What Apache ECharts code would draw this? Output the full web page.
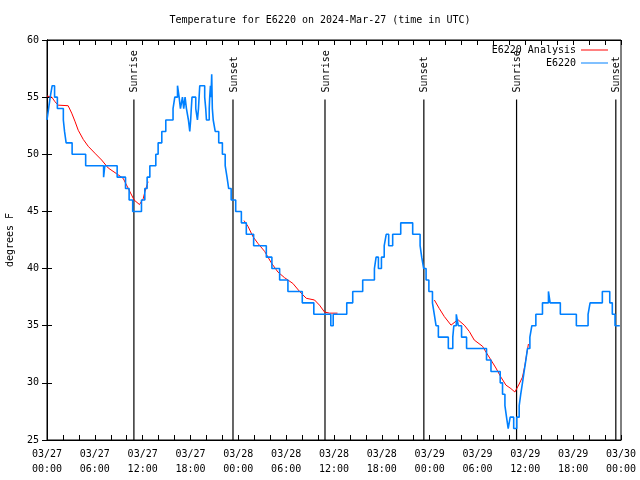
<!DOCTYPE html>
<html><head><meta charset="utf-8">
<script src="https://cdn.jsdelivr.net/npm/echarts@6/dist/echarts.min.js"></script>
<style>html,body{margin:0;padding:0;background:#fff}#c{width:640px;height:480px}</style>
</head><body><div id="c"></div>
<script>
// Hours since 2024-03-27 00:00 UTC
const tickLabels = ['03/27\n00:00','03/27\n06:00','03/27\n12:00','03/27\n18:00','03/28\n00:00','03/28\n06:00','03/28\n12:00','03/28\n18:00','03/29\n00:00','03/29\n06:00','03/29\n12:00','03/29\n18:00','03/30\n00:00'];

const obsHours = [0,0.2,0.4,0.65,0.95,1.3,2.05,2.2,2.4,3.15,4.85,7.1,7.25,8.8,9.85,10.3,10.75,11.85,12.27,12.56,12.9,13.65,13.94,14.4,14.9,15.81,16.03,16.37,16.57,16.74,16.99,17.15,17.32,17.49,17.74,17.91,18.02,18.1,18.19,18.66,18.87,19.0,19.08,19.16,19.78,19.91,20.0,20.35,20.41,20.5,20.57,20.66,20.74,20.85,21.1,21.54,22.0,22.35,22.58,22.79,23.1,23.67,24.38,25.0,25.92,27.51,28.21,29.18,30.22,32.02,33.47,35.6,35.9,37.6,38.35,39.6,41.07,41.28,41.57,41.95,42.3,42.55,42.86,43.36,44.37,45.87,46.8,47.0,47.25,47.55,47.9,48.35,48.58,48.8,49.09,50.34,50.9,51.03,51.34,51.59,52.0,52.63,55.13,55.69,56.85,57.14,57.44,57.64,57.85,58.1,58.54,58.92,59.23,59.42,59.64,59.85,60.07,60.27,60.57,60.82,61.32,62.15,62.9,63.11,64.39,66.4,67.87,68.12,69.66,70.59,70.91,71.25,71.85];
const obsTemps = [53,54,55,56,55,54,53,52,51,50,49,48,49,48,47,46,45,46,47,48,49,50,51,52,53,54,55,56,55,54,55,54,55,54,53,52,53,54,55,54,53,54,55,56,55,54,53,54,55,56,55,57,54,53,52,51,50,49,48,47,46,45,44,43,42,41,40,39,38,37,36,35,36,37,38,39,40,41,40,41,42,43,42,43,44,43,42,41,40,39,38,37,36,35,34,33,34,35,36,35,34,33,32,31,30,29,28,27,26,27,26,27,28,29,30,31,32,33,34,35,36,37,38,37,36,35,36,37,38,37,36,35,35];

const anaHours = [0,0.6,1.0,1.4,2.65,3.1,3.5,3.92,4.55,5.17,6.0,6.85,7.68,8.73,9.55,10.2,10.93,11.6,12.06,12.27,12.68, 18,
  24.71,25.21,25.83,26.46,27.3,28.14,28.96,29.8,30.84,31.68,32.52,33.56,34.18,34.81,35.44,36.44, 42,
  48.59,49.21,49.84,50.68,51.3,51.59,52.34,52.97,53.59,54.63,55.06,55.69,56.31,56.94,57.57,58.19,58.69,59.23,59.64,59.94,60.14,60.39];
const anaTemps = [55.1,55.0,54.6,54.3,54.25,53.6,52.9,52.1,51.3,50.7,50.1,49.5,48.8,48.3,47.9,47.0,46.0,45.6,46.1,46.7,47.6, null,
  44.2,43.7,42.8,42.2,41.5,40.5,39.7,39.2,38.7,38.0,37.4,37.25,36.8,36.2,36.1,36.1, null,
  37.25,36.5,35.8,35.05,35.4,35.5,35.05,34.5,33.75,33.2,32.7,32.0,31.3,30.5,29.8,29.5,29.2,29.9,30.5,31.5,32.4,33.4];

const sunHours = [10.9, 23.33, 34.87, 47.27, 58.9, 71.35];
const sunLabels = ['Sunrise','Sunset','Sunrise','Sunset','Sunrise','Sunset'];

const FONT = 'DejaVu Sans Mono';
const obsData = obsHours.map((h, i) => [h, obsTemps[i]]);
const anaData = anaHours.map((h, i) => [h, anaTemps[i] === null ? '-' : anaTemps[i]]);
const sunData = sunHours.map(h => [h, 25]);

const chart = echarts.init(document.getElementById('c'));
const txt = {fontFamily: FONT, fontSize: 10, color: '#000'};
const option = {
  animation: false,
  backgroundColor: '#fff',
  title: {text: 'Temperature for E6220 on 2024-Mar-27 (time in UTC)', left: 'center', top: 10,
    textStyle: Object.assign({fontWeight: 'normal'}, txt)},
  grid: {left: 47, right: 19, top: 40, bottom: 40, outerBoundsMode: 'none', containLabel: false,
    show: true, borderColor: '#000', borderWidth: 1, backgroundColor: 'transparent'},
  legend: {data: ['E6220 Analysis', 'E6220'], orient: 'vertical', right: 27, top: 40, align: 'right',
    itemWidth: 27, itemHeight: 1, itemGap: 3, icon: 'rect', textStyle: txt, selectedMode: false},
  xAxis: [
    {type: 'value', min: 0, max: 72, interval: 2,
     axisLine: {show: true, lineStyle: {color: '#000'}},
     axisTick: {show: true, inside: true, length: 5, lineStyle: {color: '#000'}},
     splitLine: {show: false},
     axisLabel: Object.assign({formatter: v => (v % 6 === 0 ? tickLabels[v / 6] : ''), lineHeight: 15, margin: 7}, txt)},
    {type: 'value', position: 'top', min: 0, max: 72, interval: 2,
     axisLine: {show: true, lineStyle: {color: '#000'}},
     axisTick: {show: true, inside: true, length: 5, lineStyle: {color: '#000'}},
     splitLine: {show: false}, axisLabel: {show: false}}
  ],
  yAxis: [
    {type: 'value', min: 25, max: 60, interval: 5, name: 'degrees F', nameLocation: 'middle', nameGap: 32,
     nameTextStyle: txt,
     axisLine: {show: true, lineStyle: {color: '#000'}},
     axisTick: {show: true, inside: true, length: 5, lineStyle: {color: '#000'}},
     splitLine: {show: false},
     axisLabel: Object.assign({margin: 8}, txt)},
    {type: 'value', position: 'right', min: 25, max: 60, interval: 5,
     axisLine: {show: true, lineStyle: {color: '#000'}},
     axisTick: {show: true, inside: true, length: 5, lineStyle: {color: '#000'}},
     splitLine: {show: false}, axisLabel: {show: false}}
  ],
  series: [
    {type: 'custom', name: 'sun', data: sunData, silent: true,
     renderItem: (params, api) => {
       const h = api.value(0);
       const top = api.coord([h, 54.8]);
       const bot = api.coord([h, 25]);
       return {type: 'group', children: [
         {type: 'line', shape: {x1: top[0], y1: top[1], x2: bot[0], y2: bot[1]}, style: {stroke: '#000', lineWidth: 1.2}},
         {type: 'text', x: top[0] + 1, y: top[1] - 7, rotation: Math.PI / 2,
          style: {text: sunLabels[params.dataIndex], font: '10px ' + FONT, fill: '#000', align: 'left', verticalAlign: 'middle'}}
       ]};
     }},
    {type: 'line', name: 'E6220 Analysis', data: anaData, showSymbol: false, symbol: 'none', connectNulls: false,
     itemStyle: {color: '#ff0000'}, lineStyle: {color: '#ff0000', width: 1}},
    {type: 'line', name: 'E6220', data: obsData, step: 'end', showSymbol: false, symbol: 'none',
     itemStyle: {color: '#0080ff'}, lineStyle: {color: '#0080ff', width: 1.6}}
  ]
};
chart.setOption(option);
</script>
</body></html>
